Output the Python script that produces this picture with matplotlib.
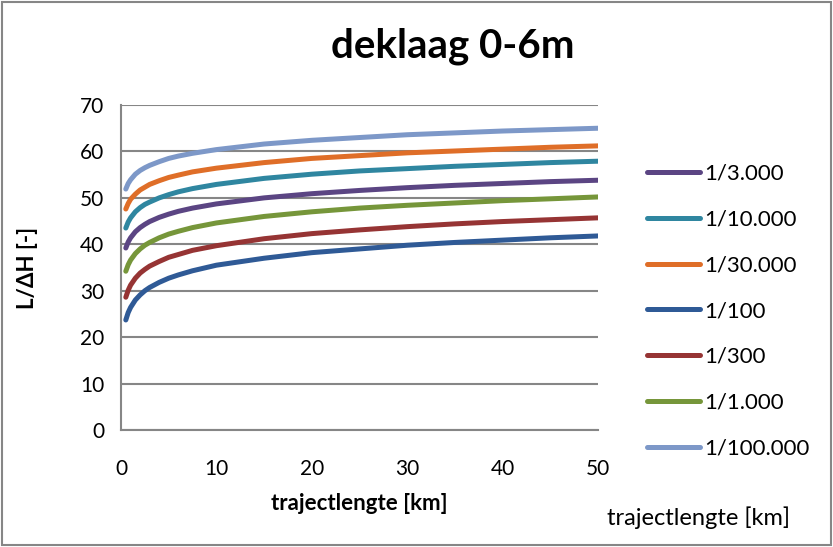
import matplotlib
matplotlib.use("Agg")
import matplotlib.pyplot as plt
from matplotlib.patches import Rectangle

plt.rcParams['font.family'] = ['Lato', 'DejaVu Sans']

# trajectlengte [km]
x_km = [0.5, 0.75, 1, 1.5, 2, 2.5, 3, 4, 5, 6, 7.5, 10, 15, 20, 25, 30, 35, 40, 45, 50]

# L/dH per norm
n_3000 = [39.2, 40.5, 41.4, 42.7, 43.6, 44.3, 44.9, 45.8, 46.5, 47.1, 47.8, 48.7, 50.0, 50.9, 51.6, 52.2, 52.7, 53.1, 53.5, 53.8]
n_10000 = [43.5, 44.8, 45.7, 47.0, 47.9, 48.6, 49.1, 50.0, 50.7, 51.3, 52.0, 52.9, 54.2, 55.1, 55.8, 56.3, 56.8, 57.2, 57.6, 57.9]
n_30000 = [47.6, 48.8, 49.7, 50.8, 51.7, 52.3, 52.9, 53.7, 54.4, 54.9, 55.6, 56.4, 57.6, 58.5, 59.1, 59.7, 60.1, 60.5, 60.9, 61.2]
n_100 = [23.7, 25.3, 26.4, 28.0, 29.1, 30.0, 30.7, 31.8, 32.7, 33.4, 34.3, 35.5, 37.0, 38.2, 39.0, 39.8, 40.4, 40.9, 41.4, 41.8]
n_300 = [28.6, 30.1, 31.2, 32.7, 33.8, 34.6, 35.3, 36.3, 37.2, 37.8, 38.7, 39.7, 41.2, 42.3, 43.1, 43.8, 44.4, 44.9, 45.3, 45.7]
n_1000 = [34.2, 35.6, 36.6, 38.0, 39.0, 39.8, 40.4, 41.4, 42.2, 42.8, 43.6, 44.6, 46.0, 47.0, 47.8, 48.4, 48.9, 49.4, 49.8, 50.2]
n_100000 = [51.9, 53.1, 53.9, 55.1, 55.9, 56.5, 57.0, 57.8, 58.5, 59.0, 59.6, 60.4, 61.6, 62.4, 63.0, 63.6, 64.0, 64.4, 64.7, 65.0]

labels = ['1/3.000', '1/10.000', '1/30.000', '1/100', '1/300', '1/1.000', '1/100.000']
series = [n_3000, n_10000, n_30000, n_100, n_300, n_1000, n_100000]
colors = ['#5b4583', '#2f86a0', '#df6e28', '#2f5a96', '#963434', '#76963a', '#7d98c8']

fig = plt.figure(figsize=(8.33, 5.47), dpi=100)
ax = fig.add_axes([0.1453, 0.2139, 0.5726, 0.5941])

for ys, lab, c in zip(series, labels, colors):
    ax.plot(x_km, ys, color=c, lw=3.6, label=lab, solid_capstyle='round')

ax.set_xlim(0, 50)
ax.set_ylim(0, 70)
ax.set_xticks(range(0, 51, 10))
ax.set_yticks(range(0, 71, 10))
ax.yaxis.grid(True, color='#868686', lw=1.5)
ax.set_axisbelow(True)
for s in ['top', 'right']:
    ax.spines[s].set_visible(False)
for s in ['left', 'bottom']:
    ax.spines[s].set_color('#868686')
    ax.spines[s].set_linewidth(1.5)
ax.tick_params(length=0, labelsize=15)
ax.tick_params(axis='x', pad=21)
ax.tick_params(axis='y', pad=12)

ax.set_xlabel('trajectlengte [km]', fontsize=16, fontweight='bold', labelpad=10)
ax.set_ylabel('L/ΔH [-]', fontsize=16, fontweight='bold', labelpad=30)
fig.text(0.544, 0.915, 'deklaag 0-6m', fontsize=29, fontweight='bold', ha='center', va='center')

ax.legend(loc='center left', bbox_to_anchor=(1.103, 0.366), frameon=False, fontsize=16,
          handlelength=2.4, handletextpad=0.15, labelspacing=1.16, borderpad=0, borderaxespad=0)
fig.text(0.839, 0.053, 'trajectlengte [km]', fontsize=17, ha='center', va='center')

fig.add_artist(Rectangle((0.002, 0.003), 0.995, 0.994, transform=fig.transFigure,
                         fill=False, edgecolor='#868686', lw=1.5))

fig.savefig('out.png', dpi=100)
